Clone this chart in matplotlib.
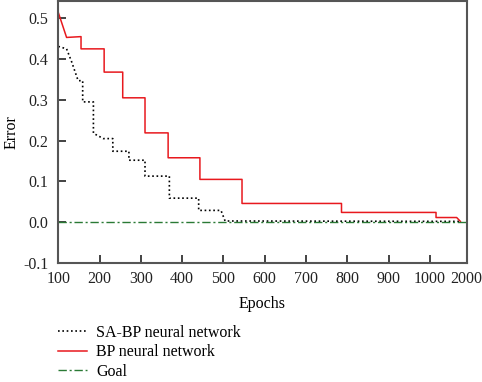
import matplotlib
matplotlib.use("Agg")
import matplotlib.pyplot as plt

plt.rcParams['font.family'] = ['Liberation Serif', 'DejaVu Serif']

# x values are in the chart's own axis units (tick "2000" sits at 1089)
tick_pos = [100, 200, 300, 400, 500, 600, 700, 800, 900, 1000, 1089]
tick_labels = ["100", "200", "300", "400", "500", "600", "700", "800", "900", "1000", "2000"]
y_ticks = [-0.1, 0.0, 0.1, 0.2, 0.3, 0.4, 0.5]

sabp_x = [100, 120, 132, 148, 159, 159, 185, 185, 209, 232, 232, 271, 271, 310, 310,
          369, 369, 440, 440, 494, 504, 1073]
sabp_y = [0.431, 0.425, 0.394, 0.347, 0.347, 0.295, 0.295, 0.218, 0.205, 0.205, 0.174,
          0.174, 0.152, 0.152, 0.113, 0.113, 0.059, 0.059, 0.029, 0.029, 0.003, 0.002]

bp_x = [100, 120, 155, 155, 211, 211, 256, 256, 310, 310, 366, 366, 443, 443, 545, 545,
        786, 786, 1015, 1015, 1065, 1074]
bp_y = [0.514, 0.453, 0.455, 0.425, 0.425, 0.368, 0.368, 0.305, 0.305, 0.219, 0.219,
        0.158, 0.158, 0.105, 0.105, 0.046, 0.046, 0.024, 0.024, 0.0115, 0.0115, 0.002]

goal_x = [100, 1089]
goal_y = [0.0, 0.0]

fig = plt.figure(figsize=(4.82, 3.82), dpi=100)
ax = fig.add_axes([0.121, 0.3115, 0.847, 0.685])

ax.plot(sabp_x, sabp_y, color='black', linestyle=(0, (1, 1.6)), linewidth=1.2,
        label='SA-BP neural network')
ax.plot(bp_x, bp_y, color='#e8191e', linestyle='-', linewidth=1.1,
        label='BP neural network')
ax.plot(goal_x, goal_y, color='#2a7a35', linestyle=(0, (6, 2, 1.5, 2)), linewidth=1.0,
        label='Goal')

ax.set_xlim(100, 1089)
ax.set_ylim(-0.1, 0.5415)
ax.set_xticks(tick_pos)
ax.set_xticklabels(tick_labels)
ax.set_yticks(y_ticks)
ax.set_yticklabels(["-0.1", "0.0", "0.1", "0.2", "0.3", "0.4", "0.5"])
ax.tick_params(direction='in', length=6, width=1.2, labelsize=11.5, colors='#222222',
               top=False, right=False)
ax.tick_params(axis='x', pad=6)
ax.tick_params(axis='y', pad=7)
for s in ax.spines.values():
    s.set_linewidth(1.5)
    s.set_color('#555555')

ax.set_xlabel('Epochs', fontsize=11.5, labelpad=6)
ax.set_ylabel('Error', fontsize=11.5, labelpad=3)

handles, labels = ax.get_legend_handles_labels()
fig.legend(handles, labels, loc='upper left', bbox_to_anchor=(0.12, 0.15),
           frameon=False, fontsize=11.5, handlelength=1.8, handletextpad=0.6,
           labelspacing=0.22, borderaxespad=0, borderpad=0)

fig.savefig('out.png', dpi=100)
